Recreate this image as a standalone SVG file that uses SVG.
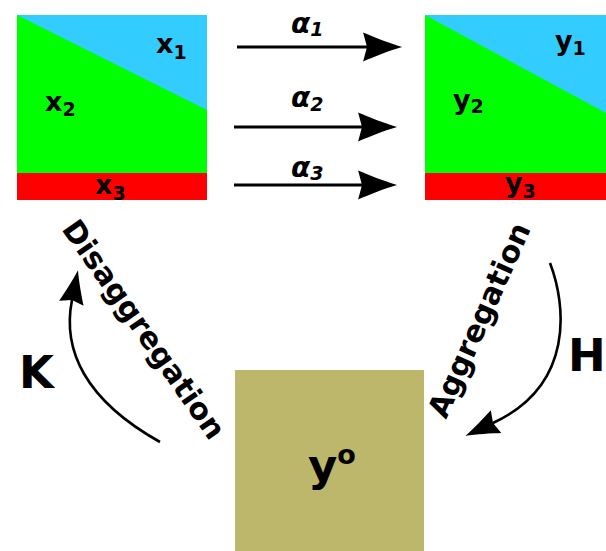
<svg xmlns="http://www.w3.org/2000/svg" width="606" height="551" viewBox="0 0 606 551">
<style>
.t{font-family:"DejaVu Sans","Liberation Sans",sans-serif;font-weight:bold;fill:#000}
.lab{font-size:27px}
.sub{font-size:19px}
.al{font-size:28px;font-style:italic}
.big{font-size:45px}
.rot{font-size:30px}
.ln{fill:none;stroke:#000}
</style>
<defs>
<marker id="ah" markerUnits="strokeWidth" markerWidth="14" markerHeight="12" refX="0" refY="0" orient="auto" overflow="visible">
<path d="M11.7,0 C7.5,-1.2 2.5,-3.2 -1.3,-4.8 L0,0 L-1.3,4.8 C2.5,3.2 7.5,1.2 11.7,0 Z" fill="#000"/>
</marker>
</defs>
<g id="box-x">
<rect x="17" y="15" width="190" height="158" fill="#00ff00"/>
<polygon points="17,15 207,15 207,110" fill="#33ccff"/>
<rect x="17" y="173" width="190" height="27" fill="#ff0000"/>
<text class="t lab" x="156" y="53">x<tspan class="sub" dy="6">1</tspan></text>
<text class="t lab" x="45" y="111">x<tspan class="sub" dy="5">2</tspan></text>
<text class="t lab" x="95" y="194">x<tspan class="sub" dy="6">3</tspan></text>
</g>
<g id="box-y">
<rect x="425" y="15" width="181" height="158" fill="#00ff00"/>
<polygon points="425,15 606,15 606,113" fill="#33ccff"/>
<rect x="425" y="173" width="181" height="27" fill="#ff0000"/>
<text class="t lab" x="555" y="50">y<tspan class="sub" dy="5">1</tspan></text>
<text class="t lab" x="453" y="109">y<tspan class="sub" dy="4">2</tspan></text>
<text class="t lab" x="505" y="192">y<tspan class="sub" dy="6">3</tspan></text>
</g>
<g id="box-yo">
<rect x="235" y="370" width="189" height="181" fill="#bdb76b"/>
<text class="t big" x="308" y="481">y<tspan font-size="27" dy="-17">o</tspan></text>
</g>
<g id="labels">
<text class="t al" x="291" y="33">α<tspan class="sub" dy="3">1</tspan></text>
<text class="t al" x="291" y="107">α<tspan class="sub" dy="4">2</tspan></text>
<text class="t al" x="291" y="177">α<tspan class="sub" dy="3">3</tspan></text>
<text class="t big" x="19" y="388">K</text>
<text class="t big" x="568" y="371">H</text>
<text class="t rot" transform="translate(61,229) rotate(55)">Disaggregation</text>
<text class="t rot" transform="translate(446,420) rotate(-66)">Aggregation</text>
</g>
<g id="connectors">
<line class="ln" x1="237" y1="47" x2="367" y2="47" stroke-width="3" marker-end="url(#ah)"/>
<line class="ln" x1="234" y1="127" x2="362" y2="127" stroke-width="3" marker-end="url(#ah)"/>
<line class="ln" x1="234" y1="185" x2="362" y2="185" stroke-width="3" marker-end="url(#ah)"/>
<path class="ln" d="M160,442 C85,400 62,350 72,300" stroke-width="2.6" marker-end="url(#ah)"/>
<path class="ln" d="M550,263 C566,305 575,385 493,423" stroke-width="2.6" marker-end="url(#ah)"/>
</g>
</svg>
